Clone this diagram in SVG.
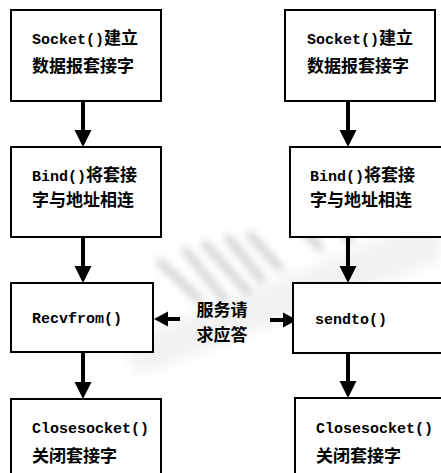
<svg xmlns="http://www.w3.org/2000/svg" width="441" height="473" viewBox="0 0 441 473">
<style>
.box{fill:#fff;stroke:#000;stroke-width:2}
.t{font-family:"Liberation Mono","Noto Sans CJK SC",monospace;font-size:15px;fill:#000;font-weight:bold}
.c{font-family:"Noto Sans CJK SC",sans-serif;font-size:17px;font-weight:bold}
.lab{font-family:"Noto Sans CJK SC",sans-serif;font-size:17px;font-weight:bold;fill:#000}
.sh{stroke:#000;stroke-width:4;fill:none}
</style>
<defs>
<filter id="blur" x="-50%" y="-50%" width="200%" height="200%"><feGaussianBlur stdDeviation="7"/></filter>
<filter id="blur2" x="-50%" y="-50%" width="200%" height="200%"><feGaussianBlur stdDeviation="4"/></filter>
</defs>
<rect width="441" height="473" fill="#fff"/>
<g id="watermark" opacity="0.5">
<path d="M120 345 L441 215 L441 260 L140 375 Z" fill="#e4e4e4" filter="url(#blur)"/>
<g stroke="#8a8a8a" stroke-width="6" stroke-linecap="round" filter="url(#blur2)">
<path d="M160 262 L200 300 M185 250 L225 300 M205 244 L248 292 M228 238 L262 280 M250 235 L280 268"/>
<path d="M300 225 L320 248 M330 218 L350 240"/>
<circle cx="363" cy="218" r="5" fill="#8a8a8a"/>
</g>
</g>
<g id="connectors">
<line class="sh" x1="83" y1="101" x2="83" y2="131"/><path d="M74.5 130 H91.5 L83 147 Z"/>
<line class="sh" x1="348" y1="101" x2="348" y2="131"/><path d="M339.5 130 H356.5 L348 147 Z"/>
<line class="sh" x1="83" y1="237" x2="83" y2="267"/><path d="M74.5 266 H91.5 L83 283 Z"/>
<line class="sh" x1="348" y1="237" x2="348" y2="267"/><path d="M339.5 266 H356.5 L348 283 Z"/>
<line class="sh" x1="83" y1="352" x2="83" y2="383"/><path d="M74.5 382 H91.5 L83 399 Z"/>
<line class="sh" x1="348" y1="353" x2="348" y2="382"/><path d="M339.5 381 H356.5 L348 398 Z"/>
<line class="sh" x1="167" y1="319" x2="180" y2="319"/><path d="M168 311.5 V326.5 L154 319 Z"/>
<line class="sh" x1="270" y1="320" x2="284" y2="320"/><path d="M283 312.5 V327.5 L297 320 Z"/>
</g>
<g id="n1"><rect class="box" x="11" y="10" width="150" height="91"/>
<text class="t" x="32" y="44">Socket()<tspan class="c">建立</tspan></text>
<text class="t c" x="32" y="72">数据报套接字</text></g>
<g id="n2"><rect class="box" x="11" y="147" width="150" height="90"/>
<text class="t" x="32" y="181">Bind()<tspan class="c">将套接</tspan></text>
<text class="t c" x="32" y="206">字与地址相连</text></g>
<g id="n3"><rect class="box" x="11" y="283" width="142" height="69"/>
<text class="t" x="32" y="323">Recvfrom()</text></g>
<g id="n4"><rect class="box" x="11" y="399" width="150" height="80"/>
<text class="t" x="32" y="433">Closesocket()</text>
<text class="t c" x="32" y="462">关闭套接字</text></g>
<g id="n5"><rect class="box" x="285" y="10" width="150" height="91"/>
<text class="t" x="307" y="44">Socket()<tspan class="c">建立</tspan></text>
<text class="t c" x="307" y="72">数据报套接字</text></g>
<g id="n6"><rect class="box" x="290" y="147" width="160" height="90"/>
<text class="t" x="310" y="181">Bind()<tspan class="c">将套接</tspan></text>
<text class="t c" x="310" y="206">字与地址相连</text></g>
<g id="n7"><rect class="box" x="293" y="283" width="160" height="70"/>
<text class="t" x="315" y="324">sendto()</text></g>
<g id="n8"><rect class="box" x="295" y="398" width="160" height="80"/>
<text class="t" x="316" y="433">Closesocket()</text>
<text class="t c" x="316" y="462">关闭套接字</text></g>
<g id="label">
<text class="lab" x="222" y="316" text-anchor="middle">服务请</text>
<text class="lab" x="222" y="341" text-anchor="middle">求应答</text>
</g>
</svg>
